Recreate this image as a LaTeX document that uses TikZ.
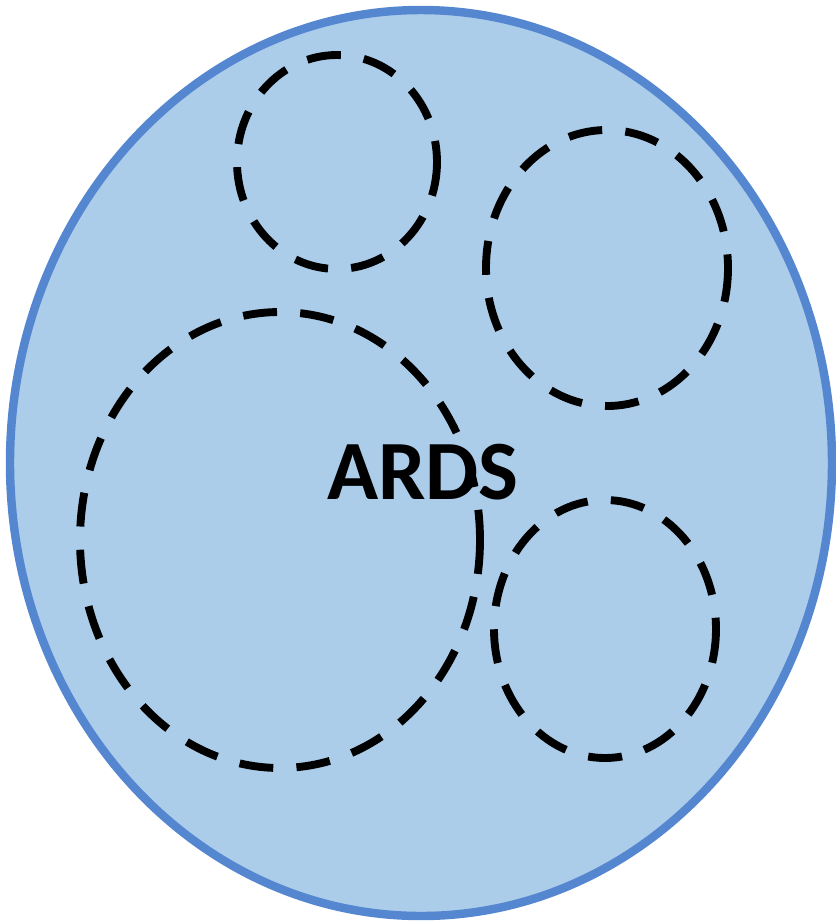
\documentclass[tikz,border=0pt]{standalone}
\usepackage{fontspec}
\setmainfont{Carlito}
\usepackage{tikz}
\definecolor{lungblue}{HTML}{ABCDEA}
\definecolor{rimblue}{HTML}{5586D0}

\begin{document}
\begin{tikzpicture}[x=0.025cm,y=-0.025cm,
  outer/.style={draw=rimblue,fill=lungblue,line width=6pt},
  sub/.style={draw=black,line width=5.6pt,dash pattern=on 0.85cm off 0.58cm}]
\useasboundingbox (0,0) rectangle (836,923);
% whole population
\draw[outer] (421,463) ellipse [x radius=411,y radius=453];
\node[font=\fontsize{60}{62}\selectfont\bfseries] (lbl) at (423,472) {ARDS};
% subgroups
\draw[sub] (337,162) ellipse [x radius=100,y radius=107];
\draw[sub] (607,268) ellipse [x radius=121,y radius=138];
\draw[sub] (280,540) ellipse [x radius=200,y radius=228];
\draw[sub] (605,629) ellipse [x radius=111,y radius=129];
\end{tikzpicture}
\end{document}
